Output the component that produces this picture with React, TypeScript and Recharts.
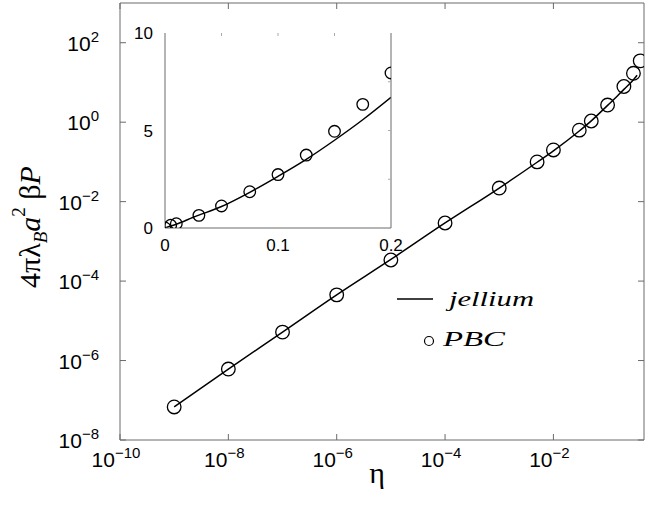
import React from 'react';
import { ComposedChart, Line, Scatter, XAxis, YAxis } from 'recharts';

// ---------- main (log-log) data ----------
const jelliumEta = [1e-9, 1e-8, 1e-7, 1e-6, 1e-5, 1e-4, 1e-3, 0.005, 0.01, 0.03, 0.05, 0.1, 0.15, 0.2, 0.25, 0.3, 0.35];
const jelliumP = [6.8e-8, 6.1e-7, 5.2e-6, 4.5e-5, 3.5e-4, 2.9e-3, 0.022, 0.098, 0.19, 0.6, 1.08, 2.65, 4.5, 6.7, 9.0, 11.7, 15.2];
const pbcEta = [1e-9, 1e-8, 1e-7, 1e-6, 1e-5, 1e-4, 1e-3, 0.005, 0.01, 0.03, 0.05, 0.1, 0.2, 0.3, 0.4];
const pbcP = [6.8e-8, 6.1e-7, 5.2e-6, 4.5e-5, 3.4e-4, 2.9e-3, 0.022, 0.1, 0.2, 0.63, 1.07, 2.7, 7.9, 17, 35];
const mainXTicks = [1e-10, 1e-8, 1e-6, 1e-4, 1e-2];
const mainYTicks = [1e-8, 1e-6, 1e-4, 1e-2, 1, 100];
const mainXDomain = [1e-10, 0.47];
const mainYDomain = [1e-8, 1e3];

// ---------- inset (linear) data ----------
const insetJellEta = [0, 0.005, 0.01, 0.025, 0.05, 0.075, 0.1, 0.125, 0.15, 0.175, 0.2];
const insetJellP = [0, 0.1, 0.19, 0.55, 1.1, 1.83, 2.65, 3.52, 4.5, 5.55, 6.7];
const insetPbcEta = [0, 0.005, 0.01, 0.03, 0.05, 0.075, 0.1, 0.125, 0.15, 0.175, 0.2];
const insetPbcP = [0, 0.14, 0.22, 0.65, 1.13, 1.86, 2.74, 3.74, 4.96, 6.34, 7.95];
const insetXTicks = [0, 0.05, 0.1, 0.15, 0.2];
const insetYTicks = [0, 2.5, 5, 7.5, 10];
const insetXLabels = [0, 0.1, 0.2];
const insetYLabels = [0, 5, 10];

const mainJellium = jelliumEta.map((eta, i) => ({ eta, p: jelliumP[i] }));
const mainPbc = pbcEta.map((eta, i) => ({ eta, p: pbcP[i] }));
const insetJellium = insetJellEta.map((eta, i) => ({ eta, p: insetJellP[i] }));
const insetPbc = insetPbcEta.map((eta, i) => ({ eta, p: insetPbcP[i] }));

const FRAME = '#6a6a6a';
const SANS = '"Liberation Sans", Arial, Helvetica, sans-serif';
const SERIF = '"Liberation Serif", "Times New Roman", serif';

const expText = (v: number) => {
  const e = Math.round(Math.log10(v));
  return e < 0 ? `\u2212${-e}` : `${e}`;
};

const MainLeftTick = (p: any) => (
  <g>
    <line x1={p.x} x2={p.x + 6} y1={p.y} y2={p.y} stroke={FRAME} strokeWidth={1} />
    <text x={p.x - 21} y={p.y + 8} textAnchor="end" fontFamily={SANS} fontSize={21} fill="#000">
      10<tspan dy={-9} fontSize={15}>{expText(p.payload.value)}</tspan>
    </text>
  </g>
);

const MainBottomTick = (p: any) => (
  <g>
    <line x1={p.x} x2={p.x} y1={p.y} y2={p.y - 6} stroke={FRAME} strokeWidth={1} />
    <text x={p.x - 4} y={p.y + 27} textAnchor="middle" fontFamily={SANS} fontSize={21} fill="#000">
      10<tspan dy={-9} fontSize={15}>{expText(p.payload.value)}</tspan>
    </text>
  </g>
);

const MainTopTick = (p: any) => (
  <line x1={p.x} x2={p.x} y1={p.y} y2={p.y + 6} stroke={FRAME} strokeWidth={1} />
);

const MainRightTick = (p: any) => (
  <line x1={p.x} x2={p.x - 6} y1={p.y} y2={p.y} stroke={FRAME} strokeWidth={1} />
);

const InsetLeftTick = (p: any) =>
  insetYLabels.includes(p.payload.value) ? (
    <text x={p.x - 12} y={p.y + 6} textAnchor="end" fontFamily={SANS} fontSize={17} fill="#000">
      {String(p.payload.value)}
    </text>
  ) : (
    <g />
  );

const InsetBottomTick = (p: any) =>
  insetXLabels.includes(p.payload.value) ? (
    <text x={p.x} y={p.y + 23} textAnchor="middle" fontFamily={SANS} fontSize={17} fill="#000">
      {String(p.payload.value)}
    </text>
  ) : (
    <g />
  );

const InsetRightTick = (p: any) =>
  p.payload.value > 0 && p.payload.value < 10 ? (
    <line x1={p.x} x2={p.x - 3} y1={p.y} y2={p.y} stroke="#aaa" strokeWidth={1} />
  ) : (
    <g />
  );

const InsetTopTick = (p: any) =>
  p.payload.value > 0 && p.payload.value < 0.2 ? (
    <line x1={p.x} x2={p.x} y1={p.y} y2={p.y + 3} stroke="#aaa" strokeWidth={1} />
  ) : (
    <g />
  );

const mainCircle = (p: any) => (
  <circle cx={p.cx} cy={p.cy} r={6.8} fill="none" stroke="#000" strokeWidth={1.3} />
);
const insetCircle = (p: any) => (
  <circle cx={p.cx} cy={p.cy} r={5.8} fill="none" stroke="#000" strokeWidth={1.3} />
);

export default function App() {
  return (
    <div style={{ position: 'absolute', left: 0, top: 0, width: 654, height: 508, background: '#fff' }}>
      <ComposedChart width={654} height={508} margin={{ top: 2, right: 9, bottom: 0, left: 0 }}>
        <XAxis
          xAxisId="b"
          type="number"
          dataKey="eta"
          scale="log"
          domain={mainXDomain}
          allowDataOverflow
          ticks={mainXTicks}
          interval={0}
          height={68}
          tickSize={0}
          tickMargin={0}
          tickLine={false}
          axisLine={{ stroke: FRAME, strokeWidth: 1 }}
          tick={MainBottomTick}
        />
        <XAxis
          xAxisId="t"
          orientation="top"
          type="number"
          dataKey="eta"
          scale="log"
          domain={mainXDomain}
          allowDataOverflow
          ticks={mainXTicks}
          interval={0}
          height={1}
          tickSize={0}
          tickMargin={0}
          tickLine={false}
          axisLine={{ stroke: FRAME, strokeWidth: 1 }}
          tick={MainTopTick}
        />
        <YAxis
          yAxisId="l"
          type="number"
          dataKey="p"
          scale="log"
          domain={mainYDomain}
          allowDataOverflow
          ticks={mainYTicks}
          interval={0}
          width={120}
          tickSize={0}
          tickMargin={0}
          tickLine={false}
          axisLine={{ stroke: FRAME, strokeWidth: 1 }}
          tick={MainLeftTick}
        />
        <YAxis
          yAxisId="r"
          orientation="right"
          type="number"
          dataKey="p"
          scale="log"
          domain={mainYDomain}
          allowDataOverflow
          ticks={mainYTicks}
          interval={0}
          width={1}
          tickSize={0}
          tickMargin={0}
          tickLine={false}
          axisLine={{ stroke: FRAME, strokeWidth: 1 }}
          tick={MainRightTick}
        />
        <Line
          xAxisId="b"
          yAxisId="l"
          data={mainJellium}
          dataKey="p"
          type="monotone"
          stroke="#000"
          strokeWidth={1.5}
          dot={false}
          activeDot={false}
          isAnimationActive={false}
        />
        <Scatter
          xAxisId="b"
          yAxisId="l"
          data={mainPbc}
          dataKey="p"
          shape={mainCircle}
          isAnimationActive={false}
        />
      </ComposedChart>

      <div style={{ position: 'absolute', left: 120, top: 3, width: 290, height: 260 }}>
        <ComposedChart width={290} height={260} margin={{ top: 29, right: 18, bottom: 0, left: 0 }}>
          <XAxis
            xAxisId="b"
            type="number"
            dataKey="eta"
            domain={[0, 0.2]}
            allowDataOverflow
            ticks={insetXTicks}
            interval={0}
            height={35}
            tickSize={0}
            tickMargin={0}
            tickLine={false}
            axisLine={{ stroke: FRAME, strokeWidth: 1 }}
            tick={InsetBottomTick}
          />
          <XAxis
            xAxisId="t"
            orientation="top"
            type="number"
            dataKey="eta"
            domain={[0, 0.2]}
            allowDataOverflow
            ticks={insetXTicks}
            interval={0}
            height={1}
            tickSize={0}
            tickMargin={0}
            tickLine={false}
            axisLine={false}
            tick={InsetTopTick}
          />
          <YAxis
            yAxisId="l"
            type="number"
            dataKey="p"
            domain={[0, 10]}
            allowDataOverflow
            ticks={insetYTicks}
            interval={0}
            width={45}
            tickSize={0}
            tickMargin={0}
            tickLine={false}
            axisLine={{ stroke: FRAME, strokeWidth: 1 }}
            tick={InsetLeftTick}
          />
          <YAxis
            yAxisId="r"
            orientation="right"
            type="number"
            dataKey="p"
            domain={[0, 10]}
            allowDataOverflow
            ticks={insetYTicks}
            interval={0}
            width={1}
            tickSize={0}
            tickMargin={0}
            tickLine={false}
            axisLine={{ stroke: FRAME, strokeWidth: 1 }}
            tick={InsetRightTick}
          />
          <Line
            xAxisId="b"
            yAxisId="l"
            data={insetJellium}
            dataKey="p"
            type="monotone"
            stroke="#000"
            strokeWidth={1.5}
            dot={false}
            activeDot={false}
            isAnimationActive={false}
          />
          <Scatter
            xAxisId="b"
            yAxisId="l"
            data={insetPbc}
            dataKey="p"
            shape={insetCircle}
            isAnimationActive={false}
          />
        </ComposedChart>
      </div>

      <svg
        width={654}
        height={508}
        style={{ position: 'absolute', left: 0, top: 0, pointerEvents: 'none' }}
      >
        {/* y-axis title */}
        <text transform="translate(40,227) rotate(-90)" textAnchor="middle" fontFamily={SERIF} fontSize={30} fill="#000">
          4πλ
          <tspan dy={7} fontSize={19} fontStyle="italic">B</tspan>
          <tspan dy={-7} fontStyle="italic">a</tspan>
          <tspan dy={-15} fontSize={19}>2</tspan>
          <tspan dy={15}> β</tspan>
          <tspan fontStyle="italic">P</tspan>
        </text>
        {/* x-axis title */}
        <text x={377} y={483} textAnchor="middle" fontFamily={SERIF} fontSize={30} fill="#000">
          η
        </text>
        {/* legend */}
        <line x1={397} x2={433} y1={299} y2={299} stroke="#000" strokeWidth={1.3} />
        <text x={449} y={306} fontFamily={SERIF} fontStyle="italic" fontSize={22} fill="#000" textLength={85} lengthAdjust="spacingAndGlyphs">
          jellium
        </text>
        <circle cx={429} cy={341} r={4.5} fill="none" stroke="#000" strokeWidth={1.2} />
        <text x={443} y={346} fontFamily={SERIF} fontStyle="italic" fontSize={22} fill="#000" textLength={62} lengthAdjust="spacingAndGlyphs">
          PBC
        </text>
      </svg>
    </div>
  );
}
